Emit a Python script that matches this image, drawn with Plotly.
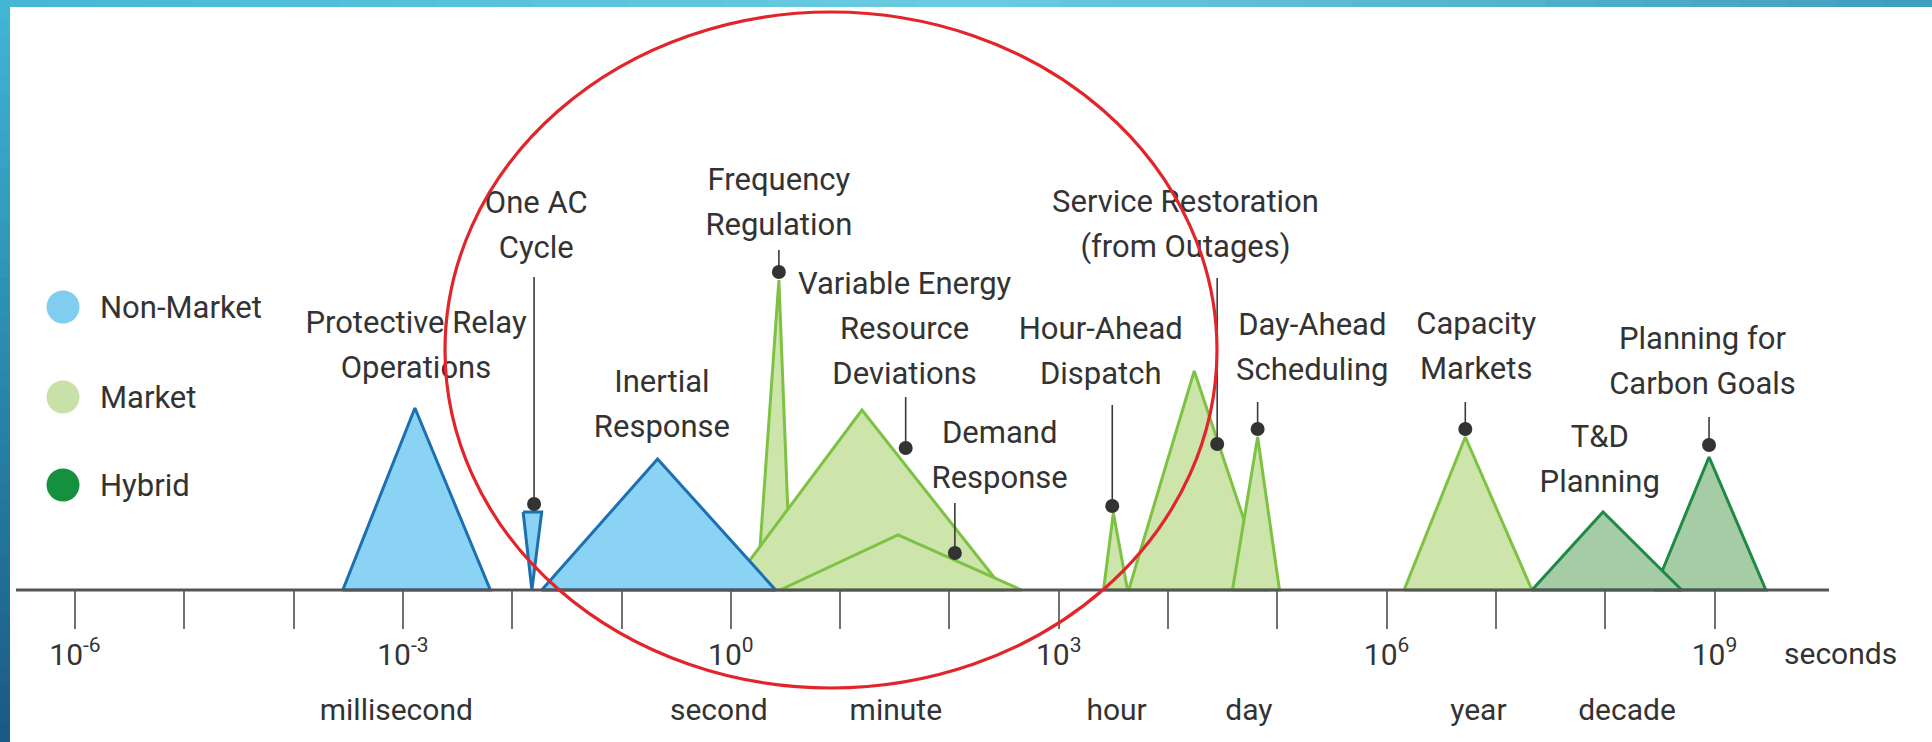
import numpy as np
import plotly.graph_objects as go

# ---------------- data ----------------
tick_exponents = list(range(-6, 10))
tick_label_exponents = [-6, -3, 0, 3, 6, 9]

unit_names = ["millisecond", "second", "minute", "hour", "day", "year", "decade"]
unit_log_positions = [-3.06, -0.11, 1.51, 3.53, 4.74, 6.84, 8.20]

categories = ["Non-Market", "Market", "Hybrid"]

# time-scale areas (log10 seconds), drawn in this order
area_names = ["Frequency Regulation", "Variable Energy Resource Deviations", "Demand Response",
              "Protective Relay Operations", "One AC Cycle", "Inertial Response",
              "Hour-Ahead Dispatch", "Service Restoration", "Day-Ahead Scheduling",
              "Capacity Markets", "Planning for Carbon Goals", "T&D Planning"]
area_category = ["Market", "Market", "Market",
                 "Non-Market", "Non-Market", "Non-Market",
                 "Market", "Market", "Market",
                 "Market", "Hybrid", "Hybrid"]
area_start_log = [0.24, -0.03, 0.45, -3.55, -1.90, -1.73, 3.41, 3.64, 4.59, 6.16, 8.45, 7.33]
area_peak_log = [0.44, 1.20, 1.53, -2.89, -1.82, -0.67, 3.50, 4.24, 4.82, 6.72, 8.95, 7.98]
area_end_log = [0.55, 2.50, 2.66, -2.20, -1.73, 0.41, 3.63, 4.91, 5.02, 7.33, 9.47, 8.70]
area_height = [310, 180, 55, 182, 78, 131, 77, 219, 153, 153, 133, 78]
area_inverted = [False, False, False, False, True, False, False, False, False, False, False, False]

# callout dots with leader lines
callout_dot_log = [-1.80, 0.44, 1.60, 2.05, 3.49, 4.45, 4.82, 6.72, 8.95]
callout_dot_height = [86, 318, 142, 37, 84, 146, 161, 161, 145]
callout_top_height = [313, 340, 193, 87, 185, 312, 188, 188, 173]

# labels
label_texts = ["Protective Relay<br>Operations", "One AC<br>Cycle", "Frequency<br>Regulation",
               "Variable Energy<br>Resource<br>Deviations", "Inertial<br>Response",
               "Demand<br>Response", "Hour-Ahead<br>Dispatch",
               "Service Restoration<br>(from Outages)", "Day-Ahead<br>Scheduling",
               "Capacity<br>Markets", "Planning for<br>Carbon Goals", "T&amp;D<br>Planning"]
# label anchor positions (layout)
label_anchor_log = [-2.88, -1.78, 0.44, 1.59, -0.63, 2.46, 3.385, 4.16, 5.32, 6.82, 8.89, 7.95]
label_anchor_height = [242, 362, 385, 259, 183, 132, 236, 363, 240, 241, 226, 128]

# ---------------- styles ----------------
W, H = 1932, 742
PX_PER_DEC = 109.3
X0_PX = 75          # pixel of 10^-6
AXIS_PX = 590       # pixel row of the time axis
FONT = "Roboto"
TXT = "#333333"
LABEL_SIZE = 31
LINE_STEP = 45

fill_col = {"Non-Market": "#8BD3F4", "Market": "#CDE4AB", "Hybrid": "#A6CCA6"}
line_col = {"Non-Market": "#1C70B2", "Market": "#7EC244", "Hybrid": "#1E8A45"}
legend_col = {"Non-Market": "#80CDEF", "Market": "#C8E1A8", "Hybrid": "#14903F"}

xmin = -6 - X0_PX / PX_PER_DEC
xmax = xmin + W / PX_PER_DEC
ymin = -(H - AXIS_PX)
ymax = AXIS_PX

fig = go.Figure()

for i, name in enumerate(area_names):
    cat = area_category[i]
    if area_inverted[i]:
        xs = [area_start_log[i], area_end_log[i], area_peak_log[i], area_start_log[i]]
        ys = [area_height[i], area_height[i], 0, area_height[i]]
    else:
        xs = [area_start_log[i], area_peak_log[i], area_end_log[i], area_start_log[i]]
        ys = [0, area_height[i], 0, 0]
    fig.add_trace(go.Scatter(
        x=10 ** np.array(xs), y=ys, mode="lines", fill="toself",
        fillcolor=fill_col[cat], line=dict(color=line_col[cat], width=3),
        name=name, showlegend=False, hoverinfo="skip"))

# leader lines
lx, ly = [], []
for i in range(len(callout_dot_log)):
    lx += [10 ** callout_dot_log[i], 10 ** callout_dot_log[i], None]
    ly += [callout_dot_height[i], callout_top_height[i], None]
fig.add_trace(go.Scatter(x=lx, y=ly, mode="lines", line=dict(color="#3a3a3a", width=1.6),
                         showlegend=False, hoverinfo="skip"))
fig.add_trace(go.Scatter(x=10 ** np.array(callout_dot_log), y=callout_dot_height, mode="markers",
                         marker=dict(size=14, color="#333333"), showlegend=False, hoverinfo="skip"))

# labels, one text item per line for precise line spacing
tx, ty, tt = [], [], []
for txt, lg, hh in zip(label_texts, label_anchor_log, label_anchor_height):
    lines = txt.split("<br>")
    n = len(lines)
    for j, ln in enumerate(lines):
        tx.append(10 ** lg)
        ty.append(hh + (n - 1) / 2 * LINE_STEP - j * LINE_STEP)
        tt.append(ln)
fig.add_trace(go.Scatter(x=tx, y=ty, mode="text", text=tt, textposition="middle center",
                         textfont=dict(family=FONT, size=LABEL_SIZE, color=TXT),
                         showlegend=False, hoverinfo="skip"))

# unit names under the axis
fig.add_trace(go.Scatter(x=10 ** np.array(unit_log_positions), y=[-122] * len(unit_names),
                         mode="text", text=unit_names, textposition="middle center",
                         textfont=dict(family=FONT, size=30, color=TXT),
                         showlegend=False, hoverinfo="skip"))

shapes = []
# time axis line
shapes.append(dict(type="line", xref="paper", yref="y", x0=16 / W, x1=1829 / W, y0=0, y1=0,
                   line=dict(color="#555555", width=3), layer="above"))
# red ellipse
cx, cy, a, b = 831, 350, 386, 338
shapes.append(dict(type="circle", xref="paper", yref="paper",
                   x0=(cx - a) / W, x1=(cx + a) / W, y0=(H - (cy + b)) / H, y1=(H - (cy - b)) / H,
                   line=dict(color="#E2252B", width=3.2), layer="above"))

# legend
annotations = []
legend_rows_px = [307, 397, 485]
for cat, yy in zip(categories, legend_rows_px):
    r = 16.5
    shapes.append(dict(type="circle", xref="paper", yref="paper",
                       x0=(63 - r) / W, x1=(63 + r) / W, y0=(H - yy - r) / H, y1=(H - yy + r) / H,
                       fillcolor=legend_col[cat], line=dict(width=0)))
    annotations.append(dict(x=98 / W, y=(H - yy) / H, xref="paper", yref="paper", text=cat,
                            showarrow=False, xanchor="left", yanchor="middle",
                            font=dict(family=FONT, size=31, color=TXT)))

annotations.append(dict(x=1782 / W, y=(H - 653) / H, xref="paper", yref="paper", text="seconds",
                        showarrow=False, xanchor="left", yanchor="middle",
                        font=dict(family=FONT, size=30, color=TXT)))


# frame bars
def lerp(c1, c2, t):
    c1 = [int(c1[k:k + 2], 16) for k in (1, 3, 5)]
    c2 = [int(c2[k:k + 2], 16) for k in (1, 3, 5)]
    return "rgb(%d,%d,%d)" % tuple(round(p + (q - p) * t) for p, q in zip(c1, c2))


n = 40
for k in range(n):
    t = (k + 0.5) / n
    col = lerp("#45B8D6", "#6ACCE0", t / 0.5) if t < 0.5 else lerp("#6ACCE0", "#3E9EBD", (t - 0.5) / 0.5)
    shapes.append(dict(type="rect", xref="paper", yref="paper", x0=k / n, x1=(k + 1) / n + 0.001,
                       y0=(H - 7) / H, y1=1, fillcolor=col, line=dict(width=0), layer="above"))
for k in range(n):
    t = (k + 0.5) / n
    col = lerp("#42B6D5", "#2A88AC", t / 0.5) if t < 0.5 else lerp("#2A88AC", "#1A5985", (t - 0.5) / 0.5)
    shapes.append(dict(type="rect", xref="paper", yref="paper", x0=0, x1=10 / W,
                       y0=1 - (k + 1) / n - 0.001, y1=1 - k / n, fillcolor=col, line=dict(width=0),
                       layer="above"))

fig.update_layout(
    width=W, height=H, margin=dict(l=0, r=0, t=0, b=0),
    paper_bgcolor="white", plot_bgcolor="white",
    shapes=shapes, annotations=annotations, showlegend=False,
    xaxis=dict(type="log", range=[xmin, xmax], showgrid=False, zeroline=False, showline=False,
               anchor="free", position=(H - AXIS_PX) / H,
               tickmode="array", tickvals=[10.0 ** e for e in tick_exponents],
               ticktext=[("10<sup>%d</sup>" % e) if e in tick_label_exponents else "" for e in tick_exponents],
               ticks="outside", ticklen=38, tickwidth=2, tickcolor="#707070",
               tickfont=dict(family=FONT, size=30, color=TXT), ticklabelstandoff=0,
               fixedrange=True),
    yaxis=dict(range=[ymin, ymax], visible=False, fixedrange=True),
)

fig.write_html("out.html", config={"displayModeBar": False},
               post_script="document.body.style.margin='0';document.body.style.overflow='hidden';")
